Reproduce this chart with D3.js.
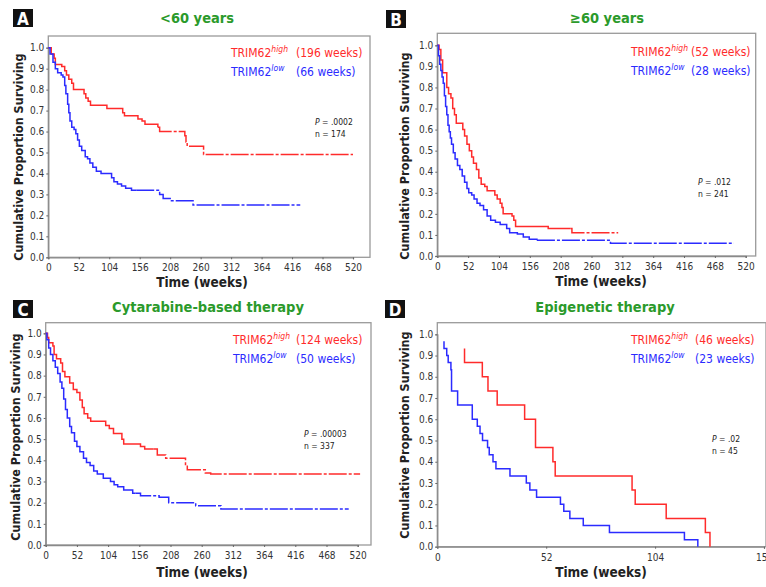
<!DOCTYPE html>
<html>
<head>
<meta charset="utf-8">
<script src="https://cdn.jsdelivr.net/npm/d3@7"></script>
<style>
body { margin: 0; background: #fff; }
svg { display: block; font-family: "DejaVu Sans Condensed", "DejaVu Sans", sans-serif; }
</style>
</head>
<body>
<div id="plot"></div>
<script>
// Kaplan-Meier curves: [week, proportion surviving]
const aHigh = [[0,1],[5,0.97],[10,0.95],[12,0.92],[23,0.91],[28,0.89],[31,0.87],[35,0.85],[40,0.83],[43,0.80],[61,0.78],[64,0.76],[68,0.745],[72,0.725],[100,0.71],[127,0.69],[130,0.675],[153,0.66],[160,0.65],[165,0.635],[187,0.62],[190,0.60],[233,0.58],[235,0.55],[237,0.53],[265,0.49],[520,0.49]];
const aLow = [[0,1],[3,0.97],[8,0.93],[12,0.90],[16,0.88],[22,0.87],[25,0.86],[28,0.82],[30,0.78],[33,0.73],[35,0.69],[37,0.65],[40,0.62],[44,0.61],[47,0.59],[50,0.56],[53,0.53],[57,0.51],[63,0.48],[67,0.47],[71,0.45],[76,0.43],[82,0.41],[90,0.40],[108,0.38],[112,0.36],[118,0.35],[125,0.34],[132,0.33],[142,0.32],[190,0.30],[196,0.28],[208,0.27],[247,0.25],[430,0.25]];
const bHigh = [[0,1],[3,0.98],[6,0.93],[9,0.87],[16,0.80],[19,0.77],[23,0.75],[26,0.70],[29,0.67],[32,0.63],[43,0.60],[46,0.57],[50,0.53],[54,0.50],[58,0.47],[61,0.44],[66,0.41],[70,0.37],[74,0.34],[80,0.33],[84,0.31],[97,0.29],[101,0.27],[106,0.25],[109,0.23],[111,0.20],[126,0.19],[129,0.17],[132,0.14],[187,0.13],[227,0.11],[305,0.11]];
const bLow = [[0,1],[2,0.95],[4,0.91],[6,0.88],[8,0.85],[10,0.82],[12,0.76],[14,0.71],[16,0.67],[18,0.62],[20,0.59],[22,0.56],[24,0.53],[27,0.49],[30,0.46],[34,0.43],[38,0.41],[42,0.38],[46,0.35],[50,0.32],[53,0.30],[58,0.29],[62,0.27],[67,0.25],[72,0.24],[78,0.22],[84,0.19],[90,0.17],[98,0.16],[106,0.15],[117,0.13],[122,0.11],[135,0.105],[145,0.09],[155,0.08],[168,0.075],[292,0.06],[500,0.06]];
const cHigh = [[0,1],[3,0.98],[5,0.955],[12,0.94],[14,0.90],[18,0.88],[25,0.86],[28,0.82],[32,0.795],[40,0.765],[46,0.735],[52,0.72],[57,0.685],[61,0.65],[64,0.62],[70,0.60],[75,0.585],[100,0.565],[106,0.55],[113,0.527],[127,0.50],[130,0.477],[158,0.465],[165,0.453],[186,0.425],[200,0.41],[233,0.38],[236,0.355],[266,0.34],[275,0.335],[524,0.335]];
const cLow = [[0,1],[2,0.97],[5,0.93],[8,0.90],[12,0.87],[16,0.84],[20,0.81],[24,0.77],[27,0.74],[30,0.69],[33,0.64],[36,0.60],[40,0.56],[43,0.53],[48,0.49],[52,0.465],[57,0.44],[63,0.41],[68,0.39],[74,0.375],[80,0.35],[86,0.335],[96,0.315],[108,0.30],[114,0.285],[120,0.275],[130,0.26],[145,0.245],[158,0.233],[189,0.225],[205,0.20],[250,0.185],[292,0.17],[505,0.17]];
const dHigh = [[13,0.933],[13,0.867],[21.5,0.80],[24.2,0.733],[28.6,0.667],[41.7,0.60],[46.9,0.533],[46.9,0.467],[55.2,0.40],[56.3,0.333],[93,0.267],[94.5,0.20],[109.3,0.133],[128,0.067],[130.2,0]];
const dLow = [[3.2,0.967],[3.2,0.933],[4.5,0.90],[5.2,0.867],[6.5,0.833],[6.8,0.80],[6.8,0.733],[9.7,0.70],[9.7,0.667],[16.7,0.633],[16.7,0.60],[19.1,0.567],[20.4,0.533],[21.6,0.50],[24,0.467],[24.8,0.433],[26.6,0.40],[28,0.367],[34.7,0.333],[42.5,0.30],[44.2,0.267],[47.4,0.233],[58.8,0.20],[60.4,0.167],[63.3,0.133],[69.7,0.10],[82.2,0.067],[118,0.033],[124.4,0]];

// week after which the curve is heavily censored (drawn broken)
const censorFrom = { aHigh: 187, aLow: 150, bHigh: 225, bLow: 168, cHigh: 180, cLow: 150 };

const panelLetters = ["A", "B", "C", "D"];
const panelTitles = ["<60 years", "\u226560 years", "Cytarabine-based therapy", "Epigenetic therapy"];
const highMedians = ["(196 weeks)", "(52 weeks)", "(124 weeks)", "(46 weeks)"];
const lowMedians = ["(66 weeks)", "(28 weeks)", "(50 weeks)", "(23 weeks)"];
const pValues = [".0002", ".012", ".00003", ".02"];
const nValues = [174, 241, 337, 45];
const weekTicks = [0, 52, 104, 156, 208, 260, 312, 364, 416, 468, 520];
const weekTicksD = [0, 52, 104, 156];
const survTicks = [0, 0.1, 0.2, 0.3, 0.4, 0.5, 0.6, 0.7, 0.8, 0.9, 1.0];

const red = "#ff2b2b", blue = "#2b2bff", green = "#2b9a2b";

// layout of each panel, in page pixels
const panels = [
  { high: aHigh, low: aLow, hk: "aHigh", lk: "aLow", ticks: weekTicks,
    left: 48.3, top: 36, right: 370, bottom: 257.3, y1: 47.7, tickEnd: 353,
    box: [13, 9], title: [197, 23], leg: [231, 57, 296], p: [315, 125], yt: [23, 157], xt: [202, 287] },
  { high: bHigh, low: bLow, hk: "bHigh", lk: "bLow", ticks: weekTicks,
    left: 437.3, top: 33.3, right: 755.7, bottom: 256, y1: 45.3, tickEnd: 745.7,
    box: [386, 10], title: [607, 23], leg: [631, 56, 691], p: [698, 185], yt: [409, 156], xt: [601, 286] },
  { high: cHigh, low: cLow, hk: "cHigh", lk: "cLow", ticks: weekTicks,
    left: 45.7, top: 322.7, right: 371, bottom: 545, y1: 333.3, tickEnd: 357.7,
    box: [13, 300], title: [208, 312], leg: [233, 344, 296], p: [304, 437], yt: [20, 437], xt: [202, 577] },
  { high: dHigh, low: dLow, hk: "dHigh", lk: "dLow", ticks: weekTicksD,
    left: 437.3, top: 322.7, right: 766, bottom: 546.7, y1: 334.3, tickEnd: 764,
    box: [385, 300], title: [605, 312], leg: [631, 344, 695], p: [712, 442], yt: [409, 435], xt: [601, 577] }
];

const svg = d3.select("#plot").append("svg")
  .attr("width", 766)
  .attr("height", 587);

panels.forEach(function(p, i) {
  const tMax = p.ticks[p.ticks.length - 1];
  const x = d3.scaleLinear().domain([0, tMax]).range([p.left, p.tickEnd]);
  const y = d3.scaleLinear().domain([0, 1]).range([p.bottom, p.y1]);
  const g = svg.append("g");

  // frame
  g.append("rect")
    .attr("x", p.left).attr("y", p.top)
    .attr("width", p.right - p.left).attr("height", p.bottom - p.top)
    .attr("fill", "none").attr("stroke", "#9a9a9a").attr("stroke-width", 1.3);

  // axes
  const ya = g.append("g")
    .attr("transform", "translate(" + p.left + ",0)")
    .call(d3.axisLeft(y).tickValues(survTicks).tickFormat(d3.format(".1f")).tickSize(2).tickPadding(2));
  const xa = g.append("g")
    .attr("transform", "translate(0," + p.bottom + ")")
    .call(d3.axisBottom(x).tickValues(p.ticks).tickSize(2).tickPadding(5));
  [ya, xa].forEach(function(a) {
    a.select(".domain").attr("stroke", "#8a8a8a").attr("stroke-width", 1.3);
    a.selectAll(".tick line").attr("stroke", "#666");
    a.selectAll("text").attr("fill", "#333").style("font-size", "10px")
      .style("font-family", "'DejaVu Sans Condensed','DejaVu Sans',sans-serif");
  });

  // curves
  const line = d3.line()
    .x(function(d) { return x(d[0]); })
    .y(function(d) { return y(d[1]); })
    .curve(d3.curveStepAfter);

  [[p.high, p.hk, red], [p.low, p.lk, blue]].forEach(function(s) {
    const data = s[0], cut = censorFrom[s[1]];
    let solid = data, broken = null;
    if (cut !== undefined) {
      solid = data.filter(function(d) { return d[0] <= cut; });
      broken = [[cut, solid[solid.length - 1][1]]].concat(data.filter(function(d) { return d[0] > cut; }));
      solid = solid.concat([[cut, solid[solid.length - 1][1]]]);
    }
    g.append("path").datum(solid)
      .attr("d", line).attr("fill", "none")
      .attr("stroke", s[2]).attr("stroke-width", 1.5);
    if (broken) {
      g.append("path").datum(broken)
        .attr("d", line).attr("fill", "none")
        .attr("stroke", s[2]).attr("stroke-width", 1.5)
        .attr("stroke-dasharray", "18,2,3,2");
    }
  });

  // panel letter
  g.append("rect")
    .attr("x", p.box[0]).attr("y", p.box[1])
    .attr("width", 20).attr("height", 18).attr("fill", "#111");
  g.append("text")
    .attr("x", p.box[0] + 10).attr("y", p.box[1] + 15.5)
    .attr("text-anchor", "middle").attr("fill", "#fff")
    .style("font-size", "17px").style("font-weight", "bold")
    .text(panelLetters[i]);

  // title
  g.append("text")
    .attr("x", p.title[0]).attr("y", p.title[1])
    .attr("text-anchor", "middle").attr("fill", green)
    .style("font-size", "14.5px").style("font-weight", "bold")
    .text(panelTitles[i]);

  // legend
  [[red, "high", highMedians[i], 0], [blue, "low", lowMedians[i], 18.5]].forEach(function(l) {
    const t = g.append("text")
      .attr("x", p.leg[0]).attr("y", p.leg[1] + l[3])
      .attr("fill", l[0]).style("font-size", "12px");
    t.append("tspan").text("TRIM62");
    t.append("tspan").attr("dy", -5).style("font-size", "8.5px").style("font-style", "italic").text(l[1]);
    t.append("tspan").attr("x", p.leg[2]).attr("dy", 5).text(l[2]);
  });

  // statistics
  const st = g.append("text")
    .attr("x", p.p[0]).attr("y", p.p[1])
    .attr("fill", "#222").style("font-size", "8.5px");
  st.append("tspan").style("font-style", "italic").text("P");
  st.append("tspan").text(" = " + pValues[i]);
  g.append("text")
    .attr("x", p.p[0]).attr("y", p.p[1] + 11.5)
    .attr("fill", "#222").style("font-size", "8.5px")
    .text("n = " + nValues[i]);

  // axis titles
  g.append("text")
    .attr("transform", "translate(" + p.yt[0] + "," + p.yt[1] + ") rotate(-90)")
    .attr("text-anchor", "middle").attr("fill", "#222")
    .style("font-size", "12.5px").style("font-weight", "bold")
    .text("Cumulative Proportion Surviving");
  g.append("text")
    .attr("x", p.xt[0]).attr("y", p.xt[1])
    .attr("text-anchor", "middle").attr("fill", "#222")
    .style("font-size", "13.5px").style("font-weight", "bold")
    .text("Time (weeks)");
});
</script>
</body>
</html>
